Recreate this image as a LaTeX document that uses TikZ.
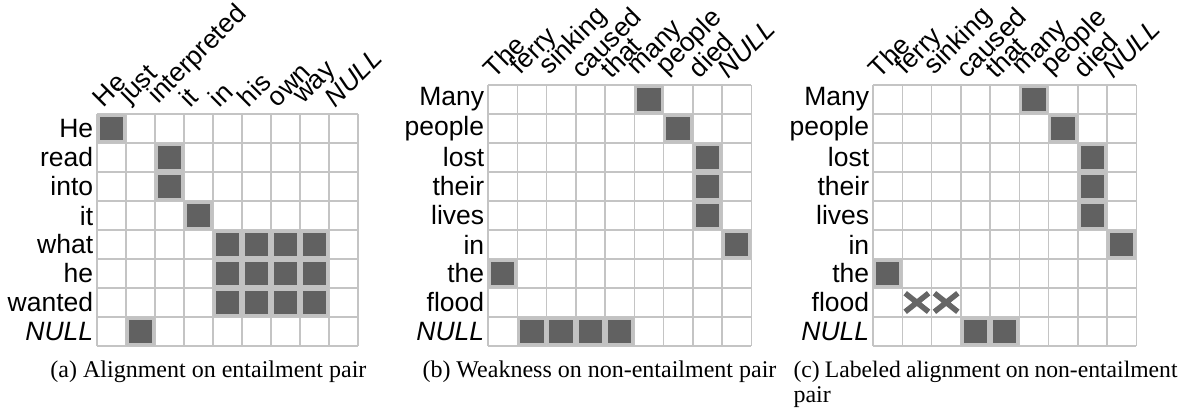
\documentclass[tikz,border=0pt]{standalone}
\usepackage{fontspec}
\setmainfont{Liberation Serif}
\setsansfont{Liberation Sans}

\begin{document}
\begin{tikzpicture}[x=0.4pt,y=0.4pt,
  cellline/.style={draw=black!23,line width=0.6pt},
  linked/.style={fill=black!62,draw=black!24,line width=1.1pt},
  crossed/.style={draw=black!60,line width=2.2pt},
  rowword/.style={anchor=east,inner sep=1pt,
                  font=\sffamily\fontsize{10.6}{12}\selectfont},
  colword/.style={anchor=south west,rotate=45,inner sep=1pt,
                  font=\sffamily\fontsize{10.6}{12}\selectfont},
  subcap/.style={anchor=base west,inner sep=0pt,
                 font=\fontsize{9.6}{12}\selectfont}]
\path[use as bounding box] (0,0) rectangle (1184,408);

% (a) entailment pair
\begin{scope}[shift={(97,294)},x=11.6pt,y=-11.6pt]
  \foreach \c in {0,...,9} \draw[cellline] (\c,0) -- (\c,8);
  \foreach \r in {0,...,8} \draw[cellline] (0,\r) -- (9,\r);
  \foreach \c/\r in {1/1,3/2,3/3,4/4,5/5,6/5,7/5,8/5,5/6,6/6,7/6,8/6,
                     5/7,6/7,7/7,8/7,2/8}
    \draw[linked] (\c-0.95,\r-0.95) rectangle (\c-0.05,\r-0.05);
  \foreach \w [count=\r] in {He,read,into,it,what,he,wanted,\textit{NULL}}
    \node[rowword] (ar\r) at (-0.03,\r-0.5) {\w};
  \foreach \w [count=\c] in {He,just,interpreted,it,in,his,own,way,\textit{NULL}}
    \node[colword] (ac\c) at (\c-0.76,-0.04) {\w};
\end{scope}
\node[subcap] (capa) at (50,31) {(a) Alignment on entailment pair};

% (b) non-entailment pair
\begin{scope}[shift={(488,323)},x=11.7pt,y=-11.6pt]
  \foreach \c in {0,...,9} \draw[cellline] (\c,0) -- (\c,9);
  \foreach \r in {0,...,9} \draw[cellline] (0,\r) -- (9,\r);
  \foreach \c/\r in {6/1,7/2,8/3,8/4,8/5,9/6,1/7,2/9,3/9,4/9,5/9}
    \draw[linked] (\c-0.95,\r-0.95) rectangle (\c-0.05,\r-0.05);
  \foreach \w [count=\r] in {Many,people,lost,their,lives,in,the,flood,\textit{NULL}}
    \node[rowword] (br\r) at (-0.03,\r-0.5) {\w};
  \foreach \w [count=\c] in {The,ferry,sinking,caused,that,many,people,died,\textit{NULL}}
    \node[colword] (bc\c) at (\c-0.76,-0.04) {\w};
\end{scope}
\node[subcap] (capb) at (422,31) {(b) Weakness on non-entailment pair};

% (c) labeled non-entailment pair
\begin{scope}[shift={(873,323)},x=11.7pt,y=-11.6pt]
  \foreach \c in {0,...,9} \draw[cellline] (\c,0) -- (\c,9);
  \foreach \r in {0,...,9} \draw[cellline] (0,\r) -- (9,\r);
  \foreach \c/\r in {6/1,7/2,8/3,8/4,8/5,9/6,1/7,4/9,5/9}
    \draw[linked] (\c-0.95,\r-0.95) rectangle (\c-0.05,\r-0.05);
  \foreach \c in {2,3}
    \draw[crossed] (\c-0.9,7.18) -- (\c-0.1,7.82)
                   (\c-0.9,7.82) -- (\c-0.1,7.18);
  \foreach \w [count=\r] in {Many,people,lost,their,lives,in,the,flood,\textit{NULL}}
    \node[rowword] (cr\r) at (-0.03,\r-0.5) {\w};
  \foreach \w [count=\c] in {The,ferry,sinking,caused,that,many,people,died,\textit{NULL}}
    \node[colword] (cc\c) at (\c-0.76,-0.04) {\w};
\end{scope}
\node[subcap,font=\fontsize{9.45}{12}\selectfont] (capc) at (793,31)
  {\makebox[153.6pt][s]{(c) Labeled alignment on non-entailment}};
\node[subcap] (capc2) at (793,6) {pair};
\end{tikzpicture}
\end{document}
